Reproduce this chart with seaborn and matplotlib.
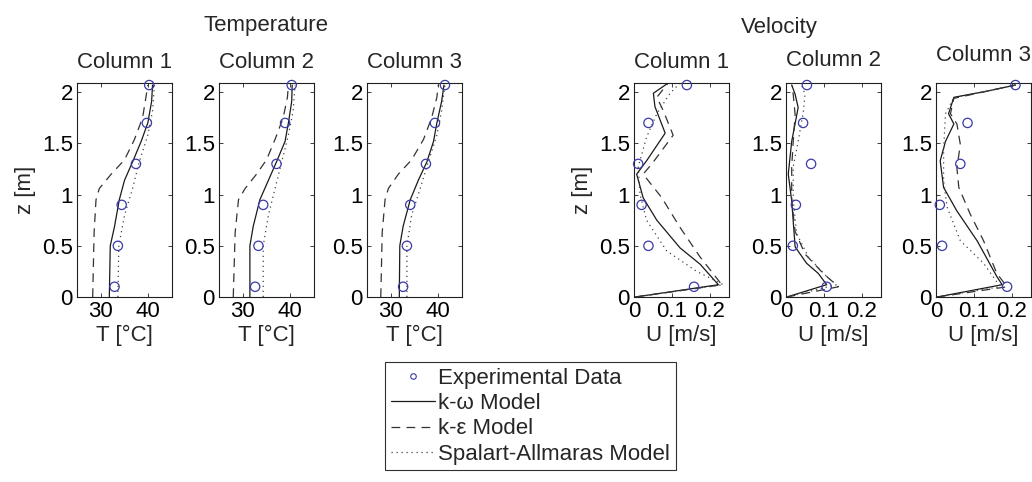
import matplotlib
matplotlib.use('Agg')
import matplotlib.pyplot as plt
import seaborn as sns
from matplotlib.lines import Line2D

sns.set_style('white')
plt.rcParams['font.family'] = ['Liberation Sans', 'DejaVu Sans']
plt.rcParams['font.size'] = 16

# experimental heights [m]
z_exp = [0.1, 0.5, 0.9, 1.3, 1.7, 2.07]

# ---- temperature [C] ----
T_exp = [
    [32.9, 33.6, 34.4, 37.4, 39.7, 40.2],
    [32.6, 33.3, 34.3, 37.1, 38.9, 40.3],
    [32.6, 33.4, 34.1, 37.4, 39.3, 41.4],
]
T_kw_z = [0.0, 0.5, 0.69, 0.95, 1.14, 1.32, 1.52, 1.7, 1.91, 2.07]
T_kw = [
    [31.8, 32.0, 32.9, 33.9, 35.0, 36.7, 38.5, 39.9, 40.7, 40.9],
    [31.5, 31.5, 32.2, 33.6, 35.4, 37.1, 38.9, 39.6, 40.3, 40.4],
    [31.8, 31.9, 32.6, 34.1, 35.8, 37.6, 39.0, 39.7, 40.7, 41.2],
]
T_ke_z = [0.0, 0.63, 0.95, 1.06, 1.2, 1.34, 1.54, 1.75, 1.95, 2.07]
T_ke = [
    [28.3, 28.6, 29.0, 29.7, 32.2, 35.0, 37.1, 38.8, 39.5, 39.9],
    [28.0, 28.4, 29.1, 30.5, 32.9, 35.0, 36.8, 38.5, 39.4, 39.6],
    [27.9, 28.2, 28.8, 29.5, 31.6, 34.4, 36.9, 38.6, 39.7, 40.0],
]
T_sa_z = [0.0, 0.5, 0.8, 1.06, 1.32, 1.58, 1.82, 2.07]
T_sa = [
    [33.6, 33.8, 35.0, 36.7, 38.1, 39.9, 40.9, 41.3],
    [34.3, 34.3, 35.4, 36.8, 38.2, 39.6, 40.6, 41.0],
    [33.4, 33.4, 34.4, 36.2, 37.9, 39.7, 40.7, 41.4],
]

# ---- velocity [m/s] ----
U_exp = [
    [0.158, 0.038, 0.020, 0.011, 0.038, 0.139],
    [0.107, 0.018, 0.026, 0.066, 0.045, 0.055],
    [0.187, 0.016, 0.010, 0.064, 0.083, 0.209],
]
U1_kw_z = [0.0, 0.12, 0.32, 0.48, 0.75, 0.97, 1.2, 1.33, 1.6, 1.86, 1.99, 2.09]
U1_kw = [0.003, 0.222, 0.174, 0.121, 0.060, 0.024, 0.007, 0.033, 0.082, 0.055, 0.051, 0.090]
U1_ke_z = [0.0, 0.12, 0.39, 0.68, 0.97, 1.2, 1.3, 1.58, 1.82, 1.95, 2.09]
U1_ke = [0.003, 0.231, 0.174, 0.121, 0.073, 0.024, 0.047, 0.103, 0.077, 0.060, 0.090]
U1_sa_z = [0.0, 0.12, 0.25, 0.45, 0.75, 1.0, 1.27, 1.56, 1.79, 1.99, 2.09]
U1_sa = [0.003, 0.235, 0.165, 0.086, 0.033, 0.016, 0.011, 0.033, 0.060, 0.095, 0.121]

U2_kw_z = [0.0, 0.12, 0.23, 0.33, 0.49, 0.94, 1.2, 1.52, 1.85, 1.98, 2.07]
U2_kw = [0.002, 0.107, 0.085, 0.054, 0.024, 0.015, 0.006, 0.015, 0.032, 0.024, 0.015]
U2_ke_z = [0.0, 0.1, 0.23, 0.42, 0.64, 0.94, 1.27, 1.52, 1.78, 1.98, 2.07]
U2_ke = [0.002, 0.138, 0.098, 0.050, 0.024, 0.015, 0.015, 0.019, 0.024, 0.019, 0.015]
U2_sa_z = [0.0, 0.12, 0.2, 0.39, 0.62, 0.94, 1.27, 1.52, 1.82, 1.98, 2.07]
U2_sa = [0.002, 0.133, 0.107, 0.059, 0.028, 0.019, 0.019, 0.032, 0.046, 0.050, 0.041]

U3_kw_z = [0.0, 0.12, 0.2, 0.55, 0.84, 1.07, 1.33, 1.52, 1.69, 1.79, 1.95, 2.01, 2.07]
U3_kw = [0.003, 0.174, 0.160, 0.108, 0.055, 0.020, 0.011, 0.025, 0.047, 0.033, 0.047, 0.134, 0.209]
U3_ke_z = [0.0, 0.1, 0.23, 0.55, 0.81, 1.07, 1.26, 1.49, 1.69, 1.79, 1.94, 2.01, 2.07]
U3_ke = [0.003, 0.187, 0.160, 0.125, 0.090, 0.060, 0.055, 0.064, 0.055, 0.038, 0.047, 0.134, 0.209]
U3_sa_z = [0.0, 0.1, 0.33, 0.55, 0.88, 1.14, 1.44, 1.79, 1.95, 2.01, 2.07]
U3_sa = [0.003, 0.169, 0.125, 0.064, 0.029, 0.020, 0.020, 0.025, 0.047, 0.134, 0.209]

U_kw = [(U1_kw, U1_kw_z), (U2_kw, U2_kw_z), (U3_kw, U3_kw_z)]
U_ke = [(U1_ke, U1_ke_z), (U2_ke, U2_ke_z), (U3_ke, U3_ke_z)]
U_sa = [(U1_sa, U1_sa_z), (U2_sa, U2_sa_z), (U3_sa, U3_sa_z)]

col_titles = ['Column 1', 'Column 2', 'Column 3']
z_ticks = [0, 0.5, 1, 1.5, 2]
z_ticklabels = ['0', '0.5', '1', '1.5', '2']
T_ticks = [30, 40]
U_ticks = [0, 0.1, 0.2]
U_ticklabels = ['0', '0.1', '0.2']

exp_color = '#3a3aa8'
kw_style = dict(color='#1a1a1a', lw=0.9, linestyle='-')
ke_style = dict(color='#333333', lw=0.9, linestyle=(0, (7, 5)))
sa_style = dict(color='#444444', lw=0.9, linestyle=(0, (1, 3)))

fig = plt.figure(figsize=(10.32, 4.82), dpi=100)
bottom, height, width = 0.3838, 0.444, 0.0921
T_lefts = [77 / 1032, 219 / 1032, 367 / 1032]
U_lefts = [634 / 1032, 786 / 1032, 936 / 1032]
U_pads = [11, 12, 16]


def style_axis(ax):
    ax.set_ylim(0, 2.09)
    ax.set_yticks(z_ticks)
    ax.set_yticklabels(z_ticklabels)
    ax.tick_params(direction='in', length=3, width=0.6, top=True, right=True,
                   left=True, bottom=True, pad=3, colors='#202020', labelcolor='black')
    for s in ax.spines.values():
        s.set_color('#202020')
        s.set_linewidth(0.8)


for i in range(3):
    ax = fig.add_axes([T_lefts[i], bottom, width, height])
    sns.lineplot(x=T_kw[i], y=T_kw_z, sort=False, estimator=None, ax=ax, **kw_style)
    sns.lineplot(x=T_ke[i], y=T_ke_z, sort=False, estimator=None, ax=ax, **ke_style)
    sns.lineplot(x=T_sa[i], y=T_sa_z, sort=False, estimator=None, ax=ax, **sa_style)
    sns.scatterplot(x=T_exp[i], y=z_exp, ax=ax, s=45, facecolor='none',
                    edgecolor=exp_color, linewidth=0.9, zorder=5, clip_on=False)
    ax.set_xlim(25, 45)
    ax.set_xticks(T_ticks)
    style_axis(ax)
    ax.set_title(col_titles[i], pad=11, fontsize=16)
    ax.set_xlabel('T [°C]', labelpad=2)
    ax.set_ylabel('z [m]' if i == 0 else '')

for i in range(3):
    ax = fig.add_axes([U_lefts[i], bottom, width, height])
    sns.lineplot(x=U_kw[i][0], y=U_kw[i][1], sort=False, estimator=None, ax=ax, **kw_style)
    sns.lineplot(x=U_ke[i][0], y=U_ke[i][1], sort=False, estimator=None, ax=ax, **ke_style)
    sns.lineplot(x=U_sa[i][0], y=U_sa[i][1], sort=False, estimator=None, ax=ax, **sa_style)
    sns.scatterplot(x=U_exp[i], y=z_exp, ax=ax, s=45, facecolor='none',
                    edgecolor=exp_color, linewidth=0.9, zorder=5, clip_on=False)
    ax.set_xlim(0, 0.25)
    ax.set_xticks(U_ticks)
    ax.set_xticklabels(U_ticklabels)
    style_axis(ax)
    ax.set_title(col_titles[i], pad=U_pads[i], fontsize=16)
    ax.set_xlabel('U [m/s]', labelpad=2)
    ax.set_ylabel('z [m]' if i == 0 else '')

fig.text(266 / 1032, 1 - 25 / 482, 'Temperature', ha='center', va='center', fontsize=16)
fig.text(779 / 1032, 1 - 27 / 482, 'Velocity', ha='center', va='center', fontsize=16)

handles = [
    Line2D([], [], marker='o', ls='none', ms=4, mfc='none', mec=exp_color, mew=0.8),
    Line2D([], [], **kw_style),
    Line2D([], [], **ke_style),
    Line2D([], [], **sa_style),
]
labels = ['Experimental Data', 'k-ω Model', 'k-ε Model', 'Spalart-Allmaras Model']
leg = fig.legend(handles, labels, loc='upper left', bbox_to_anchor=(385 / 1032, 1 - 362 / 482),
                 frameon=True, fancybox=False, shadow=False, framealpha=1,
                 handlelength=2.0, handletextpad=0.15, borderpad=0.25, labelspacing=0.2,
                 borderaxespad=0, fontsize=16)
leg.get_frame().set_edgecolor('#303030')
leg.get_frame().set_linewidth(0.8)

fig.savefig('out.png', dpi=100)
